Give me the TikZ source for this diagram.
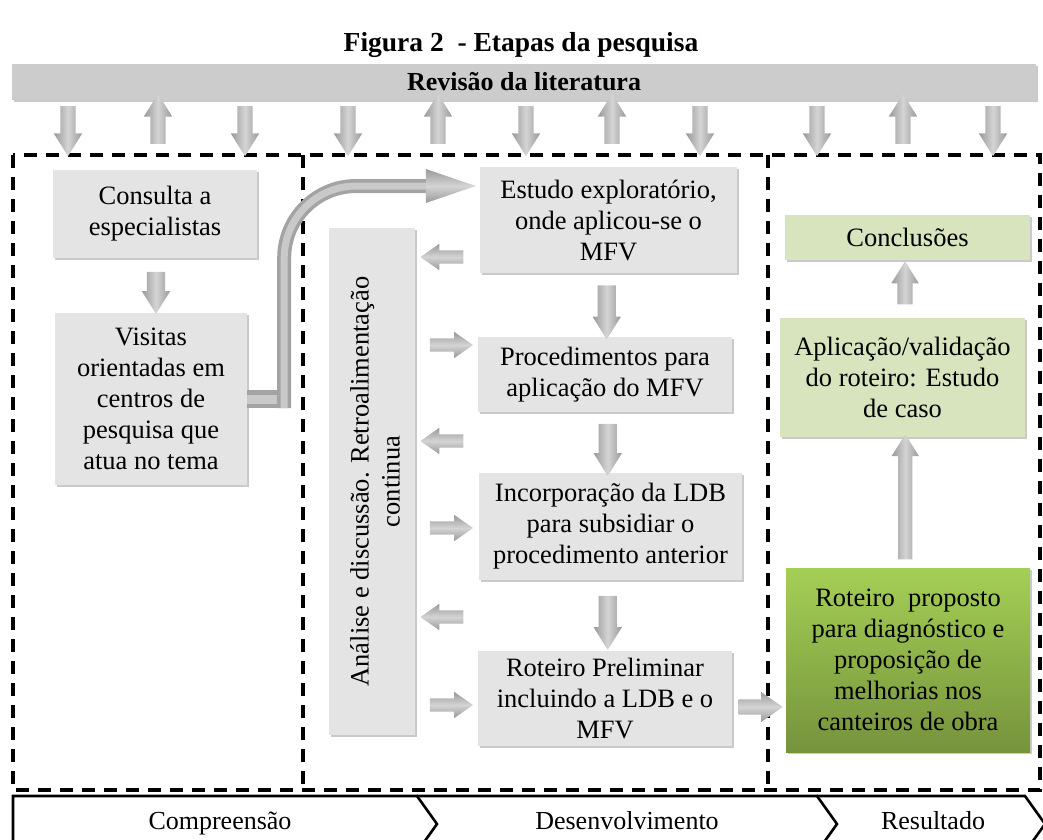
\documentclass[tikz,border=0pt]{standalone}
\usepackage{fontspec}
\setmainfont{Liberation Serif}
\usetikzlibrary{shapes.arrows,shadows,calc}
\definecolor{boxgray}{HTML}{E4E4E4}
\definecolor{bargray}{HTML}{CCCCCC}
\definecolor{lightgreen}{HTML}{D7E4BD}
\definecolor{greentop}{HTML}{A4CF56}
\definecolor{greenbot}{HTML}{76933C}
\definecolor{arrowdark}{HTML}{999999}
\definecolor{arrowlight}{HTML}{D4D4D4}
\definecolor{tubedark}{HTML}{A3A3A3}
\definecolor{tubelight}{HTML}{C9C9C9}
\tikzset{
  boxshadow/.style={drop shadow={shadow xshift=1.5pt, shadow yshift=-1.5pt, fill=black!60, opacity=.35}},
  graybox/.style={fill=boxgray, draw=none, inner sep=0pt, align=center, boxshadow, font=\fontsize{26.5}{31}\selectfont},
  greenbox/.style={graybox, fill=lightgreen},
  darkgreenbox/.style={graybox, top color=greentop, bottom color=greenbot},
  barbox/.style={fill=bargray, draw=none, inner sep=0pt, boxshadow, font=\bfseries\fontsize{26}{30}\selectfont},
  blockarrow/.style={single arrow, draw=none, minimum width=0pt, single arrow head indent=0pt, single arrow tip angle=#1},
  varrow/.style={blockarrow=64, left color=arrowdark, right color=arrowdark, middle color=arrowlight},
  harrow/.style={blockarrow=70, top color=arrowdark, bottom color=arrowdark, middle color=arrowlight},
  darr/.style={varrow, shape border rotate=270},
  uarr/.style={varrow, shape border rotate=90},
  larr/.style={harrow, shape border rotate=180},
  rarr/.style={harrow, shape border rotate=0},
  smallv/.style={minimum height=50pt, inner sep=7.5pt, single arrow head extend=6.5pt},
  midv/.style={inner sep=9pt, single arrow head extend=5pt},
  sidearr/.style={minimum height=43pt, inner sep=6.5pt, single arrow head extend=6.5pt},
  dashframe/.style={draw=black, line width=3.2pt, dash pattern=on 13pt off 9pt},
  chev/.style={draw=black, line width=2.6pt, line join=miter},
  chevtext/.style={font=\fontsize{26}{30}\selectfont, anchor=base},
  tubeouter/.style={draw=tubedark, line width=14pt},
  tubeinner/.style={draw=tubelight, line width=7pt},
}
\begin{document}
\begin{tikzpicture}[x=1pt,y=-1pt]
\useasboundingbox (0,0) rectangle (1043,839);
\node[font=\bfseries\fontsize{27.5}{32}\selectfont] (title) at (521,45) {Figura 2~ - Etapas da pesquisa};
\node[barbox, minimum width=1024pt, minimum height=36pt] (bar) at (524,82) {Revisão da literatura};

% dashed frames
\draw[dashframe] (13,155) rectangle (1040,790);
\draw[dashframe] (303,155) -- (303,790);
\draw[dashframe] (768,155) -- (768,790);

% arrows under the bar
\foreach \x [count=\i] in {68,245,348,526,700,817,993} \node[darr, smallv] (d\i) at (\x,125) {};
\foreach \x [count=\i] in {158,438,612,903} \node[uarr, smallv] (u\i) at (\x,125) {};

% boxes
\node[graybox, minimum width=204pt, minimum height=88pt] (consulta) at (155,214) {Consulta a\\especialistas};
\node[graybox, minimum width=192pt, minimum height=172pt] (visitas) at (151,399) {Visitas\\orientadas em\\centros de\\pesquisa que\\atua no tema};
\node[graybox, minimum width=86pt, minimum height=507pt] (retro) at (372,481.5) {};
\node[rotate=90, align=center, inner sep=0pt, font=\fontsize{26.5}{31}\selectfont] (retrotext) at ($(retro.center)+(3,0)$) {Análise e discussão. Retroalimentação\\continua};
\node[graybox, minimum width=257pt, minimum height=106pt] (estudo) at (608.5,220) {Estudo exploratório,\\onde aplicou-se o\\MFV};
\node[graybox, minimum width=254pt, minimum height=75pt] (proced) at (605,374.5) {Procedimentos para\\aplicação do MFV};
\node[graybox, minimum width=263pt, minimum height=107pt] (incorp) at (610.5,526.5) {Incorporação da LDB\\para subsidiar o\\procedimento anterior};
\node[graybox, minimum width=254pt, minimum height=95pt] (rotprel) at (605,698.5) {Roteiro Preliminar\\incluindo a LDB e o\\MFV};
\node[greenbox, minimum width=245pt, minimum height=45pt] (concl) at (907.5,237.5) {Conclusões};
\node[greenbox, minimum width=245pt, minimum height=119pt] (aplic) at (902.5,377.5) {Aplicação/validação\\do roteiro: Estudo\\de caso};
\node[darkgreenbox, minimum width=244pt, minimum height=184pt] (rotprop) at (908,660) {Roteiro~ proposto\\para diagnóstico e\\proposição de\\melhorias nos\\canteiros de obra};

% arrows between boxes
\node[darr, minimum height=42pt, midv] (a1) at ($(consulta.south)!.5!(visitas.north)+(3,0)$) {};
\node[darr, minimum height=54pt, midv] (a2) at ($(estudo.south)!.5!(proced.north)$) {};
\node[darr, minimum height=52pt, midv] (a3) at ($(proced.south)!.5!(incorp.north)$) {};
\node[darr, minimum height=54pt, midv] (a4) at ($(incorp.south)!.5!(rotprel.north)$) {};
\node[uarr, minimum height=43pt, inner sep=7.5pt, single arrow head extend=6pt] (a5) at ($(aplic.north)!.5!(concl.south)$) {};
\node[uarr, minimum height=125pt, inner sep=7pt, single arrow head extend=6.5pt] (a6) at ($(rotprop.north)!.5!(aplic.south)$) {};
\node[rarr, minimum height=44pt, inner sep=7.5pt, single arrow head extend=7.5pt] (a7) at ($(rotprel.east)+(23,8.5)$) {};

% side arrows (feedback)
\foreach \y [count=\i] in {257,441,617} \node[larr, sidearr] (l\i) at ($(retro.east |- 0,\y)+(31.5,0)$) {};
\foreach \y [count=\i] in {345,528,705} \node[rarr, sidearr] (r\i) at ($(retro.east |- 0,\y)+(31.5,0)$) {};

% curved tube arrow from Visitas to Estudo
\coordinate (tubeA) at ($(visitas.east)+(33,0)$);
\coordinate (tubeB) at ($(visitas.east)+(37,9)$);
\coordinate (tubeC) at ($(estudo.west)+(-52,-34)$);
\coordinate (tubeT) at ($(estudo.west)+(-4,-34)$);
\draw[tubeouter, line width=18pt] (visitas.east) -- (tubeA);
\draw[tubeinner, line width=9pt] (visitas.east) -- (tubeA);
\draw[tubeouter, rounded corners=72pt] (tubeB) |- (tubeC);
\draw[tubeinner, rounded corners=72pt] (tubeB) |- (tubeC);
\shade[top color=arrowdark, bottom color=arrowdark, middle color=arrowlight] ($(tubeC)+(-2,-17)$) -- (tubeT) -- ($(tubeC)+(-2,17)$) -- cycle;

% chevrons
\begin{scope}
\clip (0,0) rectangle (1043,839);
\draw[chev] (13,852) -- (13,796) -- (417,796) -- (437,824) -- (417,852);
\draw[chev] (417,796) -- (817,796) -- (837,824) -- (817,852);
\draw[chev] (817,796) -- (1025,796) -- (1045,824) -- (1025,852);
\end{scope}
\node[chevtext] (c1) at (220,829) {Compreensão};
\node[chevtext] (c2) at (627,829) {Desenvolvimento};
\node[chevtext] (c3) at (933,829) {Resultado};
\end{tikzpicture}
\end{document}
